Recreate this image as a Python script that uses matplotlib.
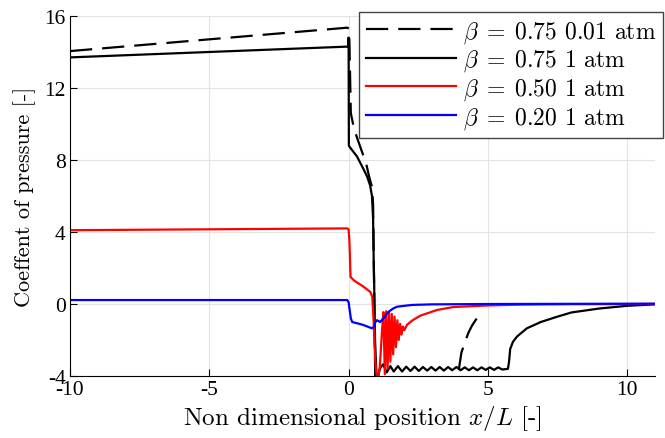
import matplotlib
matplotlib.use('Agg')
import matplotlib.pyplot as plt

plt.rcParams['mathtext.fontset'] = 'cm'
plt.rcParams['font.family'] = ['cmr10']
plt.rcParams['axes.unicode_minus'] = False
plt.rcParams['axes.formatter.use_mathtext'] = True

# ---- data ----
# beta = 0.75, 0.01 atm (dashed)
x_b75_low = [-10, -0.05, 0.02, 0.08, 0.2, 0.38, 0.63, 0.75, 0.84, 0.88, 0.9, 0.93, 0.96,
             3.9, 3.98, 4.05, 4.18, 4.3, 4.43, 4.6, 4.8]
y_b75_low = [14.05, 15.35, 15.3, 10.6, 9.7, 8.9, 7.8, 7.0, 6.5, 5.5, 3.0, -1.0, -4.6,
             -4.6, -3.4, -2.7, -2.1, -1.6, -1.2, -0.8, -0.4]

# beta = 0.75, 1 atm
x_b75 = [-10, -0.02, 0.0, 0.01, 0.05, 0.3, 0.5, 0.66, 0.77, 0.84, 0.88, 0.9, 0.92, 0.95, 1.0, 1.05,
         1.12, 1.24, 1.37, 1.5, 1.62, 1.77, 1.92, 2.07, 2.22, 2.37, 2.52, 2.67, 2.82, 2.97,
         3.12, 3.27, 3.42, 3.57, 3.72, 3.87, 4.02, 4.17, 4.32, 4.47, 4.62, 4.77, 4.92, 5.07,
         5.22, 5.37, 5.52, 5.72, 5.76, 5.8, 5.9, 6.05, 6.4, 6.9, 7.5, 8.0, 9.0, 10.0, 11.0]
y_b75 = [13.7, 14.3, 14.8, 8.8, 8.7, 8.2, 7.6, 7.1, 6.6, 6.0, 4.7, 2.5, 1.0, -2.0, -4.0, -4.1,
         -3.6, -3.35, -3.8, -3.45, -3.75, -3.45, -3.75, -3.48, -3.72, -3.48, -3.72, -3.5, -3.7, -3.5,
         -3.7, -3.5, -3.7, -3.5, -3.68, -3.5, -3.68, -3.52, -3.68, -3.52, -3.68, -3.52, -3.66, -3.52,
         -3.66, -3.52, -3.64, -3.6, -3.2, -2.5, -2.1, -1.8, -1.35, -1.0, -0.7, -0.47, -0.25, -0.1, -0.02]

# beta = 0.50, 1 atm
x_b50 = [-10, -0.05, 0.0, 0.03, 0.07, 0.2, 0.5, 0.78, 0.85, 0.9, 0.95, 1.0, 1.06, 1.12, 1.2,
         1.25, 1.30, 1.35, 1.40, 1.45, 1.50, 1.55, 1.60, 1.65, 1.70, 1.75, 1.80, 1.85, 1.90,
         1.95, 2.00, 2.1, 2.3, 2.57, 3.18, 3.75, 5.0, 6.0, 8.0, 11.0]
y_b50 = [4.1, 4.2, 4.15, 3.5, 1.5, 1.3, 1.0, 0.67, 0.4, -1.0, -3.0, -3.9, -4.1, -3.5, -1.5,
         -0.45, -3.9, -0.4, -3.6, -0.45, -3.2, -0.55, -2.8, -0.7, -2.4, -0.9, -2.0, -1.1, -1.7,
         -1.25, -1.45, -1.15, -0.9, -0.65, -0.33, -0.17, -0.08, -0.04, -0.01, 0.0]

# beta = 0.20, 1 atm
x_b20 = [-10, -0.05, 0.0, 0.08, 0.13, 0.5, 0.84, 0.92, 0.96, 1.02, 1.08, 1.13, 1.25, 1.42,
         1.6, 1.74, 2.0, 2.3, 3.0, 5.0, 11.0]
y_b20 = [0.22, 0.22, 0.1, -0.8, -1.0, -1.15, -1.35, -1.25, -1.0, -0.9, -0.95, -1.0, -0.8, -0.45,
         -0.25, -0.15, -0.1, -0.05, -0.02, 0.0, 0.02]

labels = [r'$\beta\;=\;0.75$ 0.01 atm', r'$\beta\;=\;0.75$ 1 atm',
          r'$\beta\;=\;0.50$ 1 atm', r'$\beta\;=\;0.20$ 1 atm']

fig = plt.figure(figsize=(6.65, 4.39), dpi=100)
ax = fig.add_axes([0.1053, 0.1412, 0.8797, 0.8201])

lw = 1.6
ax.plot(x_b75_low, y_b75_low, color='black', lw=lw, dashes=(10, 4.5), label=labels[0])
ax.plot(x_b75, y_b75, color='black', lw=lw, label=labels[1])
ax.plot(x_b50, y_b50, color='red', lw=lw, label=labels[2])
ax.plot(x_b20, y_b20, color='blue', lw=lw, label=labels[3])

ax.set_xlim(-10, 11)
ax.set_ylim(-4, 16)
ax.set_xticks([-10, -5, 0, 5, 10])
ax.set_yticks([-4, 0, 4, 8, 12, 16])
ax.set_xticklabels(['-10', '-5', '0', '5', '10'], family='Liberation Serif', fontsize=15.5)
ax.set_yticklabels(['-4', '0', '4', '8', '12', '16'], family='Liberation Serif', fontsize=15.5)
ax.tick_params(direction='in', length=5, width=0.8, pad=3)
ax.grid(True, color='#e3e3e3', lw=0.8)
ax.set_axisbelow(True)
ax.spines['top'].set_visible(False)
ax.spines['right'].set_visible(False)

ax.set_xlabel(r'Non dimensional position $x/L$ [-]', fontsize=18, labelpad=3)
ax.set_ylabel('Coeffent of pressure [-]', fontsize=16, labelpad=6)

leg = ax.legend(loc='upper right', bbox_to_anchor=(1.0137, 1.011), borderaxespad=0,
                fontsize=17, fancybox=False, framealpha=1, edgecolor='#444444',
                handlelength=3.8, labelspacing=0.12, handletextpad=0.3, borderpad=0.3)
leg.get_frame().set_linewidth(1.0)

fig.savefig('out.png', dpi=100)
